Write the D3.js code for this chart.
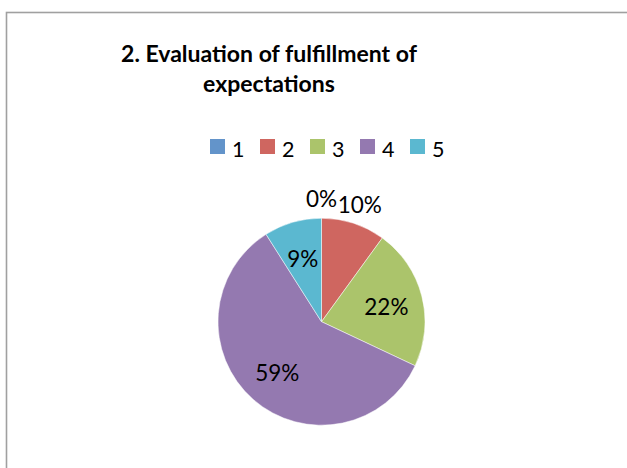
<!DOCTYPE html>
<html>
<head>
<meta charset="utf-8">
<script src="https://cdn.jsdelivr.net/npm/d3@7"></script>
<style>
  html, body { margin: 0; padding: 0; background: #fff; }
  svg { display: block; }
  text { font-family: Lato, "Open Sans", sans-serif; fill: #000; }
</style>
</head>
<body>
<svg id="chart" width="627" height="468"></svg>
<script>
// ---- data ----
const categories = ["1", "2", "3", "4", "5"];
const values = [0, 10, 22, 59, 9];           // percent
const titleLines = ["2. Evaluation of fulfillment of", "expectations"];
const colors = ["#6394CA", "#CF6660", "#ABC46B", "#9479B0", "#5BB8D0"];

const svg = d3.select("#chart");

// chart area border
svg.append("rect")
  .attr("x", 6.5).attr("y", 12.5)
  .attr("width", 640).attr("height", 480)
  .attr("fill", "#fff")
  .attr("stroke", "#a0a0a0").attr("stroke-width", 1.6);

// title
const title = svg.append("g");
const t1 = title.append("text")
  .attr("x", 269).attr("y", 61.5)
  .attr("text-anchor", "middle")
  .attr("font-weight", "bold")
  .attr("font-size", 23)
  .text(titleLines[0]);
const targetW = 296;
const w1 = t1.node().getComputedTextLength();
const tSize = 23 * targetW / w1;
t1.attr("font-size", tSize);
title.append("text")
  .attr("x", 269).attr("y", 92)
  .attr("text-anchor", "middle")
  .attr("font-weight", "bold")
  .attr("font-size", tSize)
  .text(titleLines[1]);

// legend
const legendX = d3.scaleBand().domain(categories).range([210, 460]).paddingInner(0);
const item = svg.append("g").selectAll("g").data(categories).join("g")
  .attr("transform", d => `translate(${legendX(d)},0)`);
item.append("rect")
  .attr("x", 0).attr("y", 139)
  .attr("width", 15).attr("height", 15)
  .attr("fill", (d, i) => colors[i]);
item.append("text")
  .attr("x", 22).attr("y", 157)
  .attr("font-size", 21.5)
  .text(d => d);

// pie
const cx = 321.5, cy = 321.7, R = 103.5;
const pie = d3.pie().sort(null).value(d => d)(values);
const arc = d3.arc().innerRadius(0).outerRadius(R);
const g = svg.append("g").attr("transform", `translate(${cx},${cy})`);
g.selectAll("path").data(pie).join("path")
  .attr("d", arc)
  .attr("fill", (d, i) => colors[i])
  .attr("stroke", "#fff")
  .attr("stroke-width", 0.7)
  .attr("stroke-opacity", 0.7);

// labels: inside when the text fits the wedge chord, else outside
const rIn = 67, rOut = 124, fs = 22.5;
const labels = g.selectAll("text.lbl").data(pie).join("text")
  .attr("class", "lbl")
  .attr("text-anchor", "middle")
  .attr("dominant-baseline", "central")
  .attr("font-size", fs)
  .text(d => d3.format(".0%")(d.data / 100));
labels.each(function(d) {
  const tw = this.getComputedTextLength();
  const span = d.endAngle - d.startAngle;
  const chord = 2 * rIn * Math.sin(Math.min(span, Math.PI) / 2);
  const a = (d.startAngle + d.endAngle) / 2;
  const r = (chord > tw + 2) ? rIn : rOut;
  d3.select(this)
    .attr("x", r * Math.sin(a))
    .attr("y", -r * Math.cos(a) + 1);
});
</script>
</body>
</html>
